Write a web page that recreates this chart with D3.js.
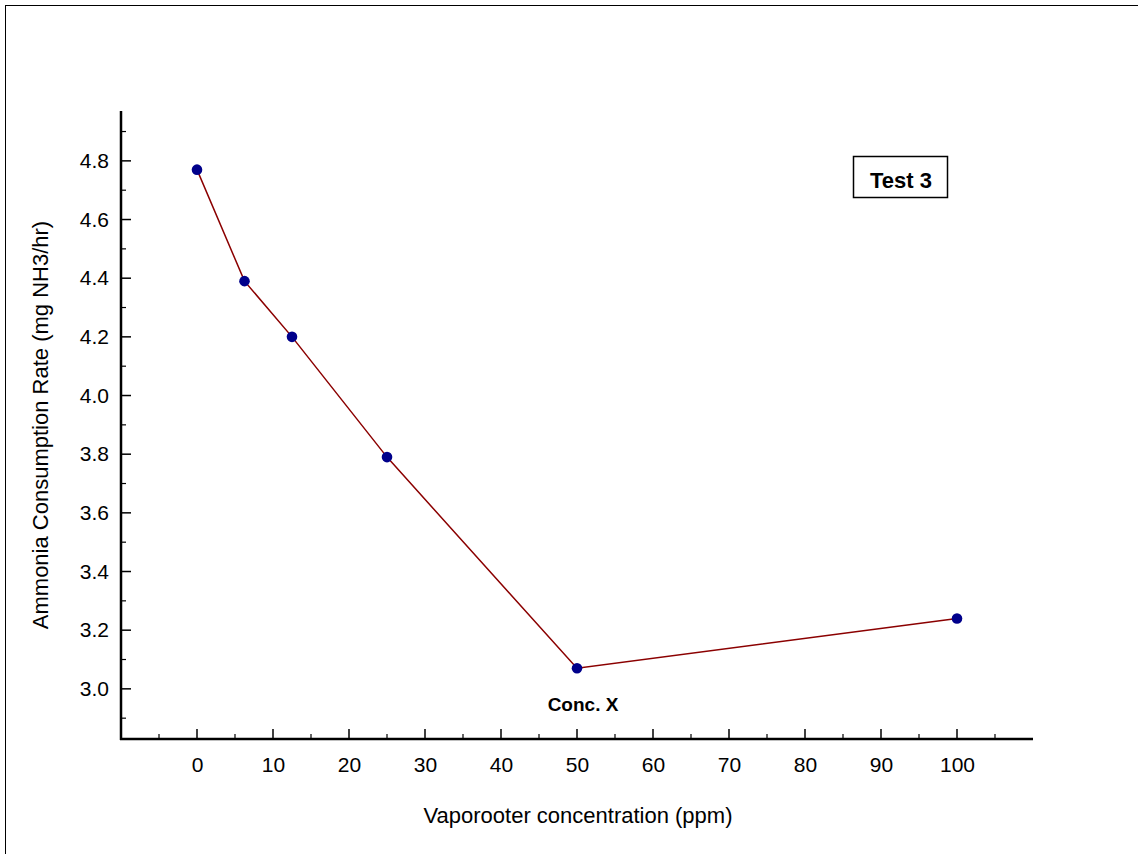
<!DOCTYPE html>
<html>
<head>
<script src="https://d3js.org/d3.v7.min.js"></script>
<style>
  body { margin: 0; background: #fff; }
  text { font-family: "Liberation Sans", Arial, sans-serif; }
</style>
</head>
<body>
<script>
// data
var concentrations = [0, 6.25, 12.5, 25, 50, 100];
var rates = [4.77, 4.39, 4.20, 3.79, 3.07, 3.24];
var xMajorTicks = [0, 10, 20, 30, 40, 50, 60, 70, 80, 90, 100];
var xMinorTicks = [-5, 5, 15, 25, 35, 45, 55, 65, 75, 85, 95, 105];
var yMajorTicks = [3.0, 3.2, 3.4, 3.6, 3.8, 4.0, 4.2, 4.4, 4.6, 4.8];
var yMinorTicks = [2.9, 3.1, 3.3, 3.5, 3.7, 3.9, 4.1, 4.3, 4.5, 4.7, 4.9];
var legendLabel = "Test 3";
var noteLabel = "Conc. X";
var noteAt = 50;

var W = 1138, H = 854;
var plotL = 121, plotR = 1033, plotT = 111, plotB = 739;

var svg = d3.select("body").append("svg")
    .attr("width", W)
    .attr("height", H);

// outer frame (only top/left edges fall inside the picture)
svg.append("rect")
    .attr("x", 5.5).attr("y", 5.5)
    .attr("width", W + 10).attr("height", H + 10)
    .style("fill", "none").style("stroke", "#000").style("stroke-width", 1);

var x = d3.scaleLinear().domain([-10, 110]).range([plotL, plotR]);
var y = d3.scaleLinear().domain([2.829, 4.97]).range([plotB, plotT]);

// x axis
var gx = svg.append("g").attr("transform", "translate(0," + plotB + ")");
gx.call(d3.axisBottom(x).tickValues(xMajorTicks).tickSize(0).tickPadding(18).tickFormat(d3.format("d")));
gx.select(".domain").remove();
gx.selectAll(".tick text").style("font-size", "21px").style("fill", "#000");
gx.selectAll(".mj").data(xMajorTicks).enter().append("line")
    .attr("x1", d => x(d)).attr("x2", d => x(d))
    .attr("y1", 0).attr("y2", -10)
    .style("stroke", "#000").style("stroke-width", 1.5);
gx.selectAll(".mn").data(xMinorTicks).enter().append("line")
    .attr("x1", d => x(d)).attr("x2", d => x(d))
    .attr("y1", 0).attr("y2", -5)
    .style("stroke", "#000").style("stroke-width", 1.2);
gx.append("line")
    .attr("x1", plotL - 1).attr("x2", plotR)
    .style("stroke", "#000").style("stroke-width", 2.5);

// y axis
var gy = svg.append("g").attr("transform", "translate(" + plotL + ",0)");
gy.call(d3.axisLeft(y).tickValues(yMajorTicks).tickSize(0).tickPadding(12).tickFormat(d3.format(".1f")));
gy.select(".domain").remove();
gy.selectAll(".tick text").style("font-size", "21px").style("fill", "#000");
gy.selectAll(".mj").data(yMajorTicks).enter().append("line")
    .attr("y1", d => y(d)).attr("y2", d => y(d))
    .attr("x1", 0).attr("x2", 10)
    .style("stroke", "#000").style("stroke-width", 1.5);
gy.selectAll(".mn").data(yMinorTicks).enter().append("line")
    .attr("y1", d => y(d)).attr("y2", d => y(d))
    .attr("x1", 0).attr("x2", 5)
    .style("stroke", "#000").style("stroke-width", 1.2);
gy.append("line")
    .attr("y1", plotT).attr("y2", plotB + 1)
    .style("stroke", "#000").style("stroke-width", 2.5);

// axis titles
svg.append("text")
    .attr("x", 578).attr("y", 823)
    .attr("text-anchor", "middle")
    .style("font-size", "22px")
    .text("Vaporooter concentration (ppm)");

svg.append("text")
    .attr("transform", "translate(48," + ((plotT + plotB) / 2) + ") rotate(-90)")
    .attr("text-anchor", "middle")
    .style("font-size", "22px")
    .text("Ammonia Consumption Rate (mg NH3/hr)");

// series
var pts = concentrations.map((c, i) => ({c: c, r: rates[i]}));
var line = d3.line().x(d => x(d.c)).y(d => y(d.r));

svg.append("path")
    .attr("d", line(pts))
    .style("fill", "none")
    .style("stroke", "#8b0000")
    .style("stroke-width", 1.5);

svg.selectAll("circle.pt").data(pts).enter().append("circle")
    .attr("class", "pt")
    .attr("cx", d => x(d.c)).attr("cy", d => y(d.r))
    .attr("r", 5.3)
    .style("fill", "#00008b");

// annotation under the minimum
svg.append("text")
    .attr("x", x(noteAt) + 6).attr("y", 711)
    .attr("text-anchor", "middle")
    .style("font-size", "19px").style("font-weight", "bold")
    .text(noteLabel);

// legend box
svg.append("rect")
    .attr("x", 853.5).attr("y", 156.5)
    .attr("width", 94).attr("height", 41)
    .style("fill", "#fff").style("stroke", "#000").style("stroke-width", 1.5);
svg.append("text")
    .attr("x", 901).attr("y", 188)
    .attr("text-anchor", "middle")
    .style("font-size", "22px").style("font-weight", "bold")
    .text(legendLabel);
</script>
</body>
</html>
